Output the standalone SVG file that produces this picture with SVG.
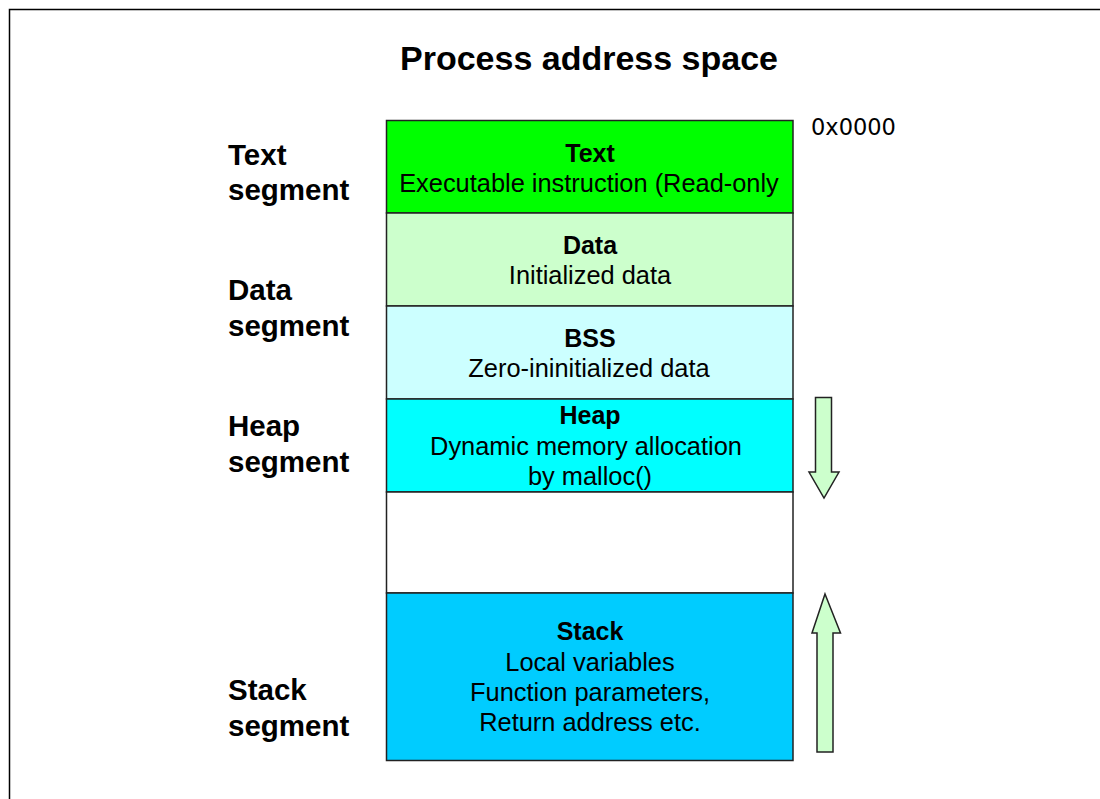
<svg xmlns="http://www.w3.org/2000/svg" width="1100" height="799" viewBox="0 0 1100 799">
<style>
  .seg { stroke: #222; stroke-width: 1.5; }
  .t { font-family: "Liberation Sans", Arial, sans-serif; font-size: 25.4px; fill: #000; text-anchor: middle; }
  .b { font-weight: bold; font-size: 25px; }
  .lbl { font-family: "Liberation Sans", Arial, sans-serif; font-size: 29.5px; font-weight: bold; fill: #000; }
  .arrow { fill: #CCFFCC; stroke: #222; stroke-width: 1.5; stroke-linejoin: miter; }
</style>
<rect x="0" y="0" width="1100" height="799" fill="#fff"/>
<rect x="9.5" y="9.5" width="1200" height="900" fill="none" stroke="#000" stroke-width="1.5"/>
<text x="589" y="70" font-family="Liberation Sans, Arial, sans-serif" font-size="34" font-weight="bold" text-anchor="middle">Process address space</text>
<text x="811" y="135" font-family="DejaVu Sans, sans-serif" font-size="22.5">0x0000</text>

<g id="label-text"><text class="lbl" x="228" y="165">Text</text><text class="lbl" x="228" y="200">segment</text></g>
<g id="label-data"><text class="lbl" x="228" y="300">Data</text><text class="lbl" x="228" y="336">segment</text></g>
<g id="label-heap"><text class="lbl" x="228" y="436">Heap</text><text class="lbl" x="228" y="472">segment</text></g>
<g id="label-stack"><text class="lbl" x="228" y="700">Stack</text><text class="lbl" x="228" y="736">segment</text></g>

<g id="node-text">
  <rect class="seg" x="386.5" y="120.5" width="406.5" height="92.5" fill="#00FF00"/>
  <text class="t b" x="590" y="162">Text</text>
  <text class="t" x="589" y="192" font-size="26.2">Executable instruction (Read-only</text>
</g>
<g id="node-data">
  <rect class="seg" x="386.5" y="213" width="406.5" height="93" fill="#CCFFCC"/>
  <text class="t b" x="590" y="254">Data</text>
  <text class="t" x="590" y="284">Initialized data</text>
</g>
<g id="node-bss">
  <rect class="seg" x="386.5" y="306" width="406.5" height="93" fill="#CCFFFF"/>
  <text class="t b" x="590" y="347">BSS</text>
  <text class="t" x="589" y="377">Zero-ininitialized data</text>
</g>
<g id="node-heap">
  <rect class="seg" x="386.5" y="399" width="406.5" height="93" fill="#00FFFF"/>
  <text class="t b" x="590" y="424">Heap</text>
  <text class="t" x="586" y="455">Dynamic memory allocation</text>
  <text class="t" x="590" y="485">by malloc()</text>
</g>
<g id="node-free">
  <rect class="seg" x="386.5" y="492" width="406.5" height="101" fill="#FFFFFF"/>
</g>
<g id="node-stack">
  <rect class="seg" x="386.5" y="593" width="406.5" height="167.5" fill="#00CCFF"/>
  <text class="t b" x="590" y="640">Stack</text>
  <text class="t" x="590" y="671">Local variables</text>
  <text class="t" x="590" y="701">Function parameters,</text>
  <text class="t" x="590" y="731">Return address etc.</text>
</g>

<g id="connectors">
  <polygon class="arrow" points="815.5,397.5 831.5,397.5 831.5,472 839,472 824,498 809,472 815.5,472"/>
  <polygon class="arrow" points="825,594 840.5,633 833,633 833,752 817,752 817,633 812,633"/>
</g>
</svg>
